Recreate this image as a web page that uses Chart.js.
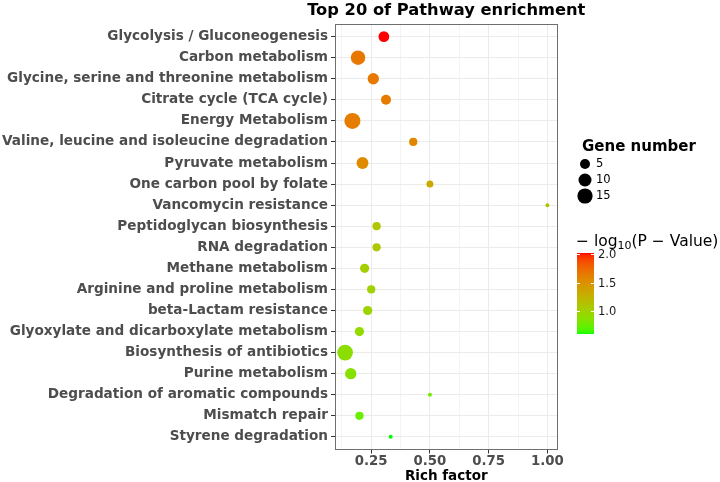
<!DOCTYPE html>
<html>
<head>
<meta charset="utf-8">
<script src="https://cdn.jsdelivr.net/npm/chart.js@4.4.1/dist/chart.umd.min.js"></script>
<style>
  html, body { margin: 0; padding: 0; background: #fff; }
  #wrap { width: 720px; height: 482px; }
</style>
</head>
<body>
<div id="wrap"><canvas id="c" width="720" height="482"></canvas></div>
<script>
// Pathways, top to bottom
const pathways = [
  'Glycolysis / Gluconeogenesis',
  'Carbon metabolism',
  'Glycine, serine and threonine metabolism',
  'Citrate cycle (TCA cycle)',
  'Energy Metabolism',
  'Valine, leucine and isoleucine degradation',
  'Pyruvate metabolism',
  'One carbon pool by folate',
  'Vancomycin resistance',
  'Peptidoglycan biosynthesis',
  'RNA degradation',
  'Methane metabolism',
  'Arginine and proline metabolism',
  'beta-Lactam resistance',
  'Glyoxylate and dicarboxylate metabolism',
  'Biosynthesis of antibiotics',
  'Purine metabolism',
  'Degradation of aromatic compounds',
  'Mismatch repair',
  'Styrene degradation'
];
const richFactor = [0.304, 0.194, 0.259, 0.313, 0.170, 0.429, 0.213, 0.500, 1.000, 0.273,
                    0.273, 0.222, 0.250, 0.235, 0.200, 0.139, 0.163, 0.500, 0.200, 0.333];
const geneNumber = [6, 13, 7, 5, 17, 3, 8, 2, 1, 3,
                    3, 4, 3, 4, 4, 16, 7, 1, 3, 1];
const negLogP    = [2.02, 1.66, 1.65, 1.64, 1.63, 1.57, 1.54, 1.32, 1.13, 1.10,
                    1.09, 1.03, 1.00, 0.98, 0.93, 0.89, 0.87, 0.80, 0.75, 0.60];
const xTicks = [0.125, 0.25, 0.375, 0.5, 0.625, 0.75, 0.875, 1.0];
const sizeBreaks = [5, 10, 15];
const colorBreaks = [1.0, 1.5, 2.0];

const FONT = '"DejaVu Sans", sans-serif';

// ---- size scale (area) ----
const nMin = Math.min(...geneNumber), nMax = Math.max(...geneNumber);
function radius(n) {
  return 2 + 6 * Math.sqrt((n - nMin) / (nMax - nMin));
}

// ---- colour scale: green -> red interpolated in CIELAB ----
function hexToLab(hex) {
  const c = [1, 3, 5].map(i => parseInt(hex.substr(i, 2), 16) / 255)
    .map(v => v <= 0.04045 ? v / 12.92 : Math.pow((v + 0.055) / 1.055, 2.4));
  let X = (0.4124 * c[0] + 0.3576 * c[1] + 0.1805 * c[2]) / 0.95047;
  let Y = (0.2126 * c[0] + 0.7152 * c[1] + 0.0722 * c[2]);
  let Z = (0.0193 * c[0] + 0.1192 * c[1] + 0.9505 * c[2]) / 1.08883;
  const f = t => t > 0.008856 ? Math.cbrt(t) : 7.787 * t + 16 / 116;
  X = f(X); Y = f(Y); Z = f(Z);
  return [116 * Y - 16, 500 * (X - Y), 200 * (Y - Z)];
}
function labToRgb(L, a, b) {
  const fy = (L + 16) / 116, fx = fy + a / 500, fz = fy - b / 200;
  const inv = t => t * t * t > 0.008856 ? t * t * t : (t - 16 / 116) / 7.787;
  const X = inv(fx) * 0.95047, Y = inv(fy), Z = inv(fz) * 1.08883;
  let r = 3.2406 * X - 1.5372 * Y - 0.4986 * Z;
  let g = -0.9689 * X + 1.8758 * Y + 0.0415 * Z;
  let bb = 0.0557 * X - 0.2040 * Y + 1.0570 * Z;
  const gam = v => {
    v = v <= 0.0031308 ? 12.92 * v : 1.055 * Math.pow(v, 1 / 2.4) - 0.055;
    return Math.round(Math.max(0, Math.min(1, v)) * 255);
  };
  return 'rgb(' + gam(r) + ',' + gam(g) + ',' + gam(bb) + ')';
}
const labLow = hexToLab('#00FF00'), labHigh = hexToLab('#FF0000');
const pMin = Math.min(...negLogP), pMax = Math.max(...negLogP);
function colourFor(v) {
  const t = (v - pMin) / (pMax - pMin);
  return labToRgb(
    labLow[0] + (labHigh[0] - labLow[0]) * t,
    labLow[1] + (labHigh[1] - labLow[1]) * t,
    labLow[2] + (labHigh[2] - labLow[2]) * t);
}

// x limits with 5% expansion, y discrete with 0.6 expansion
const rMin = Math.min(...richFactor), rMax = Math.max(...richFactor);
const xPad = (rMax - rMin) * 0.05;

// ---- title, legends and panel border ----
const decorPlugin = {
  id: 'decor',
  afterDraw(chart) {
    const ctx = chart.ctx;
    const area = chart.chartArea;
    ctx.save();
    // panel border
    ctx.strokeStyle = '#6e6e6e';
    ctx.lineWidth = 1;
    ctx.strokeRect(Math.round(area.left) + 0.5, Math.round(area.top) + 0.5,
      Math.round(area.right - area.left) - 1, Math.round(area.bottom - area.top) - 1);

    // title
    ctx.fillStyle = '#000';
    ctx.font = 'bold 16.3px ' + FONT;
    ctx.textAlign = 'center';
    ctx.textBaseline = 'alphabetic';
    ctx.fillText('Top 20 of Pathway enrichment', (area.left + area.right) / 2, 15);

    // size legend
    const lx = 577;
    ctx.textAlign = 'left';
    ctx.font = 'bold 15px ' + FONT;
    ctx.fillText('Gene number', lx + 5, 151);
    ctx.font = '11.5px ' + FONT;
    ctx.textBaseline = 'middle';
    sizeBreaks.forEach((n, i) => {
      const cy = 164 + i * 16;
      ctx.fillStyle = '#000';
      ctx.beginPath();
      ctx.arc(585, cy, radius(n), 0, Math.PI * 2);
      ctx.fill();
      ctx.fillText(String(n), 596, cy + 0.5);
    });

    // colour bar title: −log10(P − Value)
    ctx.textBaseline = 'alphabetic';
    ctx.font = '15.5px ' + FONT;
    let tx = 576;
    const ty = 246;
    ctx.fillText('\u2212 log', tx, ty);
    tx += ctx.measureText('\u2212 log').width;
    ctx.font = '11px ' + FONT;
    ctx.fillText('10', tx, ty + 3);
    tx += ctx.measureText('10').width;
    ctx.font = '15.5px ' + FONT;
    ctx.fillText('(P \u2212 Value)', tx, ty);

    // colour bar
    const bx = 577, bw = 17, bTop = 253, bBot = 334;
    const steps = bBot - bTop;
    for (let k = 0; k < steps; k++) {
      const v = pMin + (pMax - pMin) * (k + 0.5) / steps;
      ctx.fillStyle = colourFor(v);
      ctx.fillRect(bx, bBot - k - 1, bw, 1);
    }
    ctx.font = '11.5px ' + FONT;
    ctx.textBaseline = 'middle';
    colorBreaks.forEach(v => {
      const y = bBot - (v - pMin) / (pMax - pMin) * (bBot - bTop);
      ctx.strokeStyle = '#fff';
      ctx.lineWidth = 1;
      ctx.beginPath();
      ctx.moveTo(bx, Math.round(y) + 0.5); ctx.lineTo(bx + 3, Math.round(y) + 0.5);
      ctx.moveTo(bx + bw - 3, Math.round(y) + 0.5); ctx.lineTo(bx + bw, Math.round(y) + 0.5);
      ctx.stroke();
      ctx.fillStyle = '#1a1a1a';
      ctx.fillText(v.toFixed(1), bx + bw + 4, y + 1);
    });
    ctx.restore();
  }
};

const isMajor = v => Math.abs(v / 0.25 - Math.round(v / 0.25)) < 1e-6;

new Chart(document.getElementById('c'), {
  type: 'bubble',
  data: {
    datasets: [{
      data: pathways.map((p, i) => ({ x: richFactor[i], y: i, r: radius(geneNumber[i]) })),
      backgroundColor: negLogP.map(colourFor),
      borderWidth: 0,
      hoverBorderWidth: 0
    }]
  },
  options: {
    responsive: false,
    animation: false,
    devicePixelRatio: 1,
    layout: { padding: { left: 0, top: 24, right: 162.5, bottom: 0 } },
    plugins: { legend: { display: false }, tooltip: { enabled: false } },
    scales: {
      x: {
        type: 'linear',
        min: rMin - xPad,
        max: rMax + xPad,
        afterBuildTicks: s => { s.ticks = xTicks.map(v => ({ value: v })); },
        afterFit: s => { s.height = 32.5; },
        grid: {
          color: c => (c.tick && isMajor(c.tick.value)) ? '#EBEBEB' : '#F4F4F4',
          tickColor: c => (c.tick && isMajor(c.tick.value)) ? '#333333' : 'rgba(0,0,0,0)',
          tickLength: 4
        },
        border: { display: false },
        ticks: {
          autoSkip: false, maxRotation: 0, padding: 0,
          color: '#4D4D4D',
          font: { family: FONT, size: 13.3, weight: 'bold' },
          callback: v => isMajor(v) ? v.toFixed(2) : ''
        },
        title: {
          display: true, text: 'Rich factor', color: '#000',
          font: { family: FONT, size: 13.5, weight: 'bold', lineHeight: 0.8 },
          padding: { top: 0, bottom: 0 }
        }
      },
      y: {
        type: 'linear',
        reverse: true,
        min: -0.6,
        max: pathways.length - 1 + 0.6,
        afterBuildTicks: s => { s.ticks = pathways.map((_, i) => ({ value: i })); },
        afterFit: s => { s.width = 335; },
        grid: { color: '#EBEBEB', tickColor: '#333333', tickLength: 4 },
        border: { display: false },
        ticks: {
          autoSkip: false, padding: 3,
          color: '#4D4D4D',
          font: { family: FONT, size: 13.6, weight: 'bold' },
          callback: v => pathways[v]
        }
      }
    }
  },
  plugins: [decorPlugin]
});
</script>
</body>
</html>
